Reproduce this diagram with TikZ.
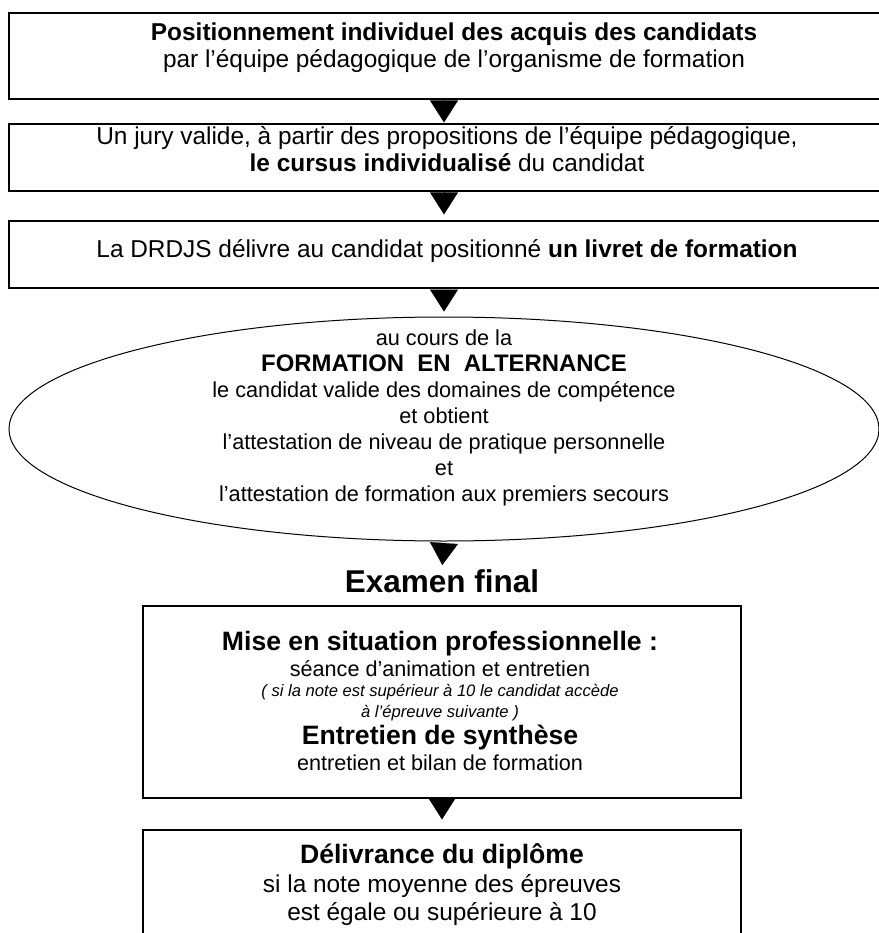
\documentclass[tikz,border=0pt]{standalone}
\usepackage{fontspec}
\setmainfont{Liberation Sans}
\usetikzlibrary{arrows.meta,shapes.geometric}

\begin{document}
\begin{tikzpicture}[x=1pt,y=-1pt]
    \tikzstyle{every node}+=[inner sep=0pt]
    \tikzstyle{boite}=[draw, rectangle, line width=1.2pt]
    \tikzstyle{fleche}=[-{Triangle[length=22pt,width=28pt]}, line width=0.1pt, shorten <=2pt]
    \tikzstyle{txt}=[anchor=base, font=\fontsize{24.4}{28}\selectfont]
    \tikzstyle{txtgras}=[anchor=base, font=\bfseries\fontsize{24.4}{28}\selectfont]
    \tikzstyle{ovaletxt}=[anchor=base, font=\fontsize{21.7}{26}\selectfont]
    \tikzstyle{titre}=[anchor=base, font=\bfseries\fontsize{26.6}{30}\selectfont]
    \tikzstyle{petit}=[anchor=base, font=\fontsize{21.6}{26}\selectfont]
    \tikzstyle{remarque}=[anchor=base, font=\itshape\fontsize{16.6}{20}\selectfont]
    \useasboundingbox (0,0) rectangle (878,933);
    % positionnement
    \node [boite, minimum width=880pt, minimum height=86pt] (b1) at (449,56) {};
    \node [txtgras] (t1a) at (454,41) {Positionnement individuel des acquis des candidats};
    \node [txt] (t1b) at (454,68) {par l’équipe pédagogique de l’organisme de formation};
    % jury
    \node [boite, minimum width=880pt, minimum height=67pt] (b2) at (449,157.5) {};
    \node [txt] (t2a) at (447,145) {Un jury valide, à partir des propositions de l’équipe pédagogique,};
    \node [txt] (t2b) at (447,172) {\textbf{le cursus individualisé} du candidat};
    % livret
    \node [boite, minimum width=880pt, minimum height=67pt] (b3) at (449,254.5) {};
    \node [txt] (t3) at (447,257) {La DRDJS délivre au candidat positionné \textbf{un livret de formation}};
    % formation en alternance
    \node [draw, ellipse, line width=1pt, minimum width=870pt, minimum height=224pt] (e) at (444,429) {};
    \node [ovaletxt] (e1) at (444,345) {au cours de la};
    \node [ovaletxt, font=\bfseries\fontsize{23.9}{26}\selectfont] (e2) at (444,371) {FORMATION\ \ EN\ \ ALTERNANCE};
    \node [ovaletxt] (e3) at (444,397) {le candidat valide des domaines de compétence};
    \node [ovaletxt] (e4) at (444,423) {et obtient};
    \node [ovaletxt] (e5) at (444,449) {l’attestation de niveau de pratique personnelle};
    \node [ovaletxt] (e6) at (444,475) {et};
    \node [ovaletxt] (e7) at (444,501) {l’attestation de formation aux premiers secours};
    % examen
    \node [anchor=base, font=\bfseries\fontsize{31.5}{36}\selectfont] (exam) at (442,592) {Examen final};
    \node [boite, minimum width=598pt, minimum height=192pt] (b4) at (442,702) {};
    \node [titre] (t4a) at (440,650) {Mise en situation professionnelle :};
    \node [petit] (t4b) at (440,676) {séance d’animation et entretien};
    \node [remarque] (t4c) at (440,696) {( si la note est supérieur à 10 le candidat accède};
    \node [remarque] (t4d) at (440,717) {à l’épreuve suivante )};
    \node [titre] (t4e) at (440,744) {Entretien de synthèse};
    \node [petit] (t4f) at (440,770) {entretien et bilan de formation};
    % diplome
    \node [boite, minimum width=598pt, minimum height=140pt] (b5) at (442,900) {};
    \node [titre] (t5a) at (442,863) {Délivrance du diplôme};
    \node [txt] (t5b) at (442,892) {si la note moyenne des épreuves};
    \node [txt] (t5c) at (442,920) {est égale ou supérieure à 10};
    % fleches
    \draw [fleche, shorten >=1pt] (b1.south -| e.north) -- (b2.north -| e.north);
    \draw [fleche, shorten >=6pt] (b2.south -| e.north) -- (b3.north -| e.north);
    \draw [fleche, shorten >=5pt] (b3.south -| e.north) -- (e.north);
    \draw [fleche, shorten >=4pt] (e.south) -- (exam.north);
    \draw [fleche, shorten <=0pt, shorten >=10pt] (b4.south) -- (b5.north);
\end{tikzpicture}
\end{document}
